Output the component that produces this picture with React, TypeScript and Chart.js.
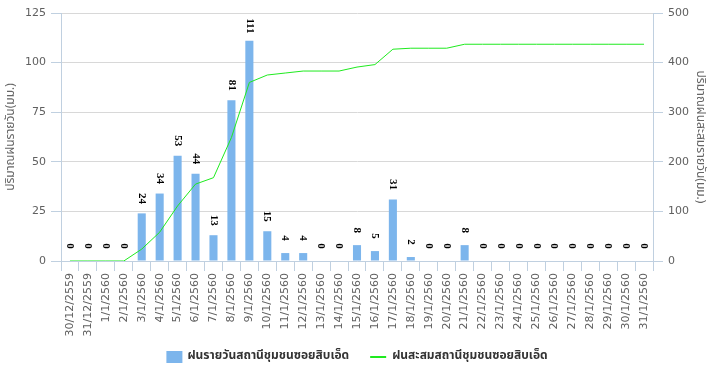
import React, { useEffect, useRef } from "react";
import { Chart, registerables } from "chart.js";

Chart.register(...registerables);

const categories: string[] = [
  "30/12/2559", "31/12/2559", "1/1/2560", "2/1/2560", "3/1/2560", "4/1/2560", "5/1/2560",
  "6/1/2560", "7/1/2560", "8/1/2560", "9/1/2560", "10/1/2560", "11/1/2560", "12/1/2560",
  "13/1/2560", "14/1/2560", "15/1/2560", "16/1/2560", "17/1/2560", "18/1/2560", "19/1/2560",
  "20/1/2560", "21/1/2560", "22/1/2560", "23/1/2560", "24/1/2560", "25/1/2560", "26/1/2560",
  "27/1/2560", "28/1/2560", "29/1/2560", "30/1/2560", "31/1/2560",
];

const dailyRain: number[] = [
  0, 0, 0, 0, 24, 34, 53, 44, 13, 81, 111, 15, 4, 4, 0, 0, 8, 5, 31, 2, 0, 0, 8,
  0, 0, 0, 0, 0, 0, 0, 0, 0, 0,
];

const cumulativeRain: number[] = [
  0, 0, 0, 0, 24, 58, 111, 155, 168, 249, 360, 375, 379, 383, 383, 383, 391, 396, 427, 429, 429, 429, 437,
  437, 437, 437, 437, 437, 437, 437, 437, 437, 437,
];

const dailyTicks: number[] = [0, 25, 50, 75, 100, 125];
const cumulativeTicks: number[] = [0, 100, 200, 300, 400, 500];

const seriesNames: string[] = ["ฝนรายวันสถานีชุมชนซอยสิบเอ็ด", "ฝนสะสมสถานีชุมชนซอยสิบเอ็ด"];
const axisTitles: string[] = ["ปริมาณฝนรายวัน(มม.)", "ปริมาณฝนสะสมรายวัน(มม.)"];

const BAR_COLOR = "#7CB5EC";
const LINE_COLOR = "#1FEA1F";
const THAI_FONT = "Tahoma, 'Noto Sans Thai', 'Noto Sans', 'DejaVu Sans', sans-serif";

const dataLabelPlugin = {
  id: "dataLabels",
  afterDatasetsDraw(chart: any) {
    const ctx = chart.ctx;
    const meta = chart.getDatasetMeta(0);
    const data = chart.data.datasets[0].data as number[];
    ctx.save();
    ctx.font = "bold 11px 'Liberation Serif', serif";
    ctx.fillStyle = "#000000";
    ctx.textAlign = "center";
    ctx.textBaseline = "middle";
    meta.data.forEach((el: any, i: number) => {
      ctx.save();
      ctx.translate(el.x, el.y - 15);
      ctx.rotate(Math.PI / 2);
      ctx.fillText(String(data[i]), 0, 0);
      ctx.restore();
    });
    ctx.restore();
  },
};

const legendPlugin = {
  id: "customLegend",
  afterDraw(chart: any) {
    const ctx = chart.ctx;
    ctx.save();
    ctx.font = `bold 12px ${THAI_FONT}`;
    const w1 = ctx.measureText(seriesNames[0]).width;
    const w2 = ctx.measureText(seriesNames[1]).width;
    const total = 16 + 5 + w1 + 21 + 16 + 6 + w2;
    const cy = 357;
    let x = 357 - total / 2;
    ctx.fillStyle = BAR_COLOR;
    ctx.fillRect(x, cy - 6, 16, 12);
    x += 21;
    ctx.fillStyle = "#333333";
    ctx.textBaseline = "middle";
    ctx.textAlign = "left";
    ctx.fillText(seriesNames[0], x, cy);
    x += w1 + 21;
    ctx.strokeStyle = LINE_COLOR;
    ctx.lineWidth = 2;
    ctx.beginPath();
    ctx.moveTo(x, cy);
    ctx.lineTo(x + 16, cy);
    ctx.stroke();
    x += 22;
    ctx.fillText(seriesNames[1], x, cy);
    ctx.restore();
  },
};

export default function App() {
  const canvasRef = useRef<HTMLCanvasElement | null>(null);

  useEffect(() => {
    if (!canvasRef.current) return;
    const tickFont = { family: "'DejaVu Sans', sans-serif", size: 11 };
    const chart = new Chart(canvasRef.current, {
      type: "bar",
      data: {
        labels: categories,
        datasets: [
          {
            type: "bar",
            label: seriesNames[0],
            data: dailyRain,
            backgroundColor: BAR_COLOR,
            borderWidth: 0,
            barPercentage: 0.45,
            categoryPercentage: 1,
            yAxisID: "y",
            order: 1,
          },
          {
            type: "line",
            label: seriesNames[1],
            data: cumulativeRain,
            borderColor: LINE_COLOR,
            backgroundColor: LINE_COLOR,
            borderWidth: 1,
            pointRadius: 0,
            tension: 0,
            yAxisID: "y1",
            order: 0,
          },
        ],
      } as any,
      options: {
        responsive: false,
        animation: false,
        devicePixelRatio: 1,
        layout: { padding: { top: 13, bottom: 0, left: 0, right: 0 } },
        plugins: {
          legend: { display: false },
          tooltip: { enabled: false },
        },
        scales: {
          x: {
            type: "category",
            afterFit: (scale: any) => {
              scale.height = 111;
            },
            grid: {
              offset: true,
              drawOnChartArea: false,
              drawTicks: true,
              tickLength: 10,
              tickColor: "#C0D0E0",
            },
            border: { display: true, color: "#C0D0E0" },
            ticks: {
              autoSkip: false,
              minRotation: 90,
              maxRotation: 90,
              padding: 2,
              color: "#606060",
              font: tickFont,
            },
          },
          y: {
            type: "linear",
            position: "left",
            min: 0,
            max: 125,
            afterFit: (scale: any) => {
              scale.width = 61;
            },
            afterBuildTicks: (scale: any) => {
              scale.ticks = dailyTicks.map((v) => ({ value: v }));
            },
            grid: {
              color: "#D8D8D8",
              tickColor: "#C0D0E0",
              tickLength: 10,
            },
            border: { display: true, color: "#C0D0E0" },
            ticks: {
              padding: 5,
              color: "#606060",
              font: tickFont,
            },
            title: {
              display: true,
              text: axisTitles[0],
              color: "#666666",
              font: { family: THAI_FONT, size: 12 },
              padding: { top: 4, bottom: 0 },
            },
          },
          y1: {
            type: "linear",
            position: "right",
            min: 0,
            max: 500,
            afterFit: (scale: any) => {
              scale.width = 63;
            },
            afterBuildTicks: (scale: any) => {
              scale.ticks = cumulativeTicks.map((v) => ({ value: v }));
            },
            grid: {
              drawOnChartArea: false,
              tickColor: "#C0D0E0",
              tickLength: 10,
            },
            border: { display: true, color: "#C0D0E0" },
            ticks: {
              padding: 5,
              color: "#606060",
              font: tickFont,
            },
            title: {
              display: true,
              text: axisTitles[1],
              color: "#666666",
              font: { family: THAI_FONT, size: 12 },
              padding: { top: 9, bottom: 0 },
            },
          },
        },
      } as any,
      plugins: [dataLabelPlugin, legendPlugin],
    });
    return () => chart.destroy();
  }, []);

  return (
    <div style={{ position: "absolute", left: 0, top: 0, width: 716, height: 372, background: "#ffffff" }}>
      <canvas ref={canvasRef} width={716} height={372} />
    </div>
  );
}
